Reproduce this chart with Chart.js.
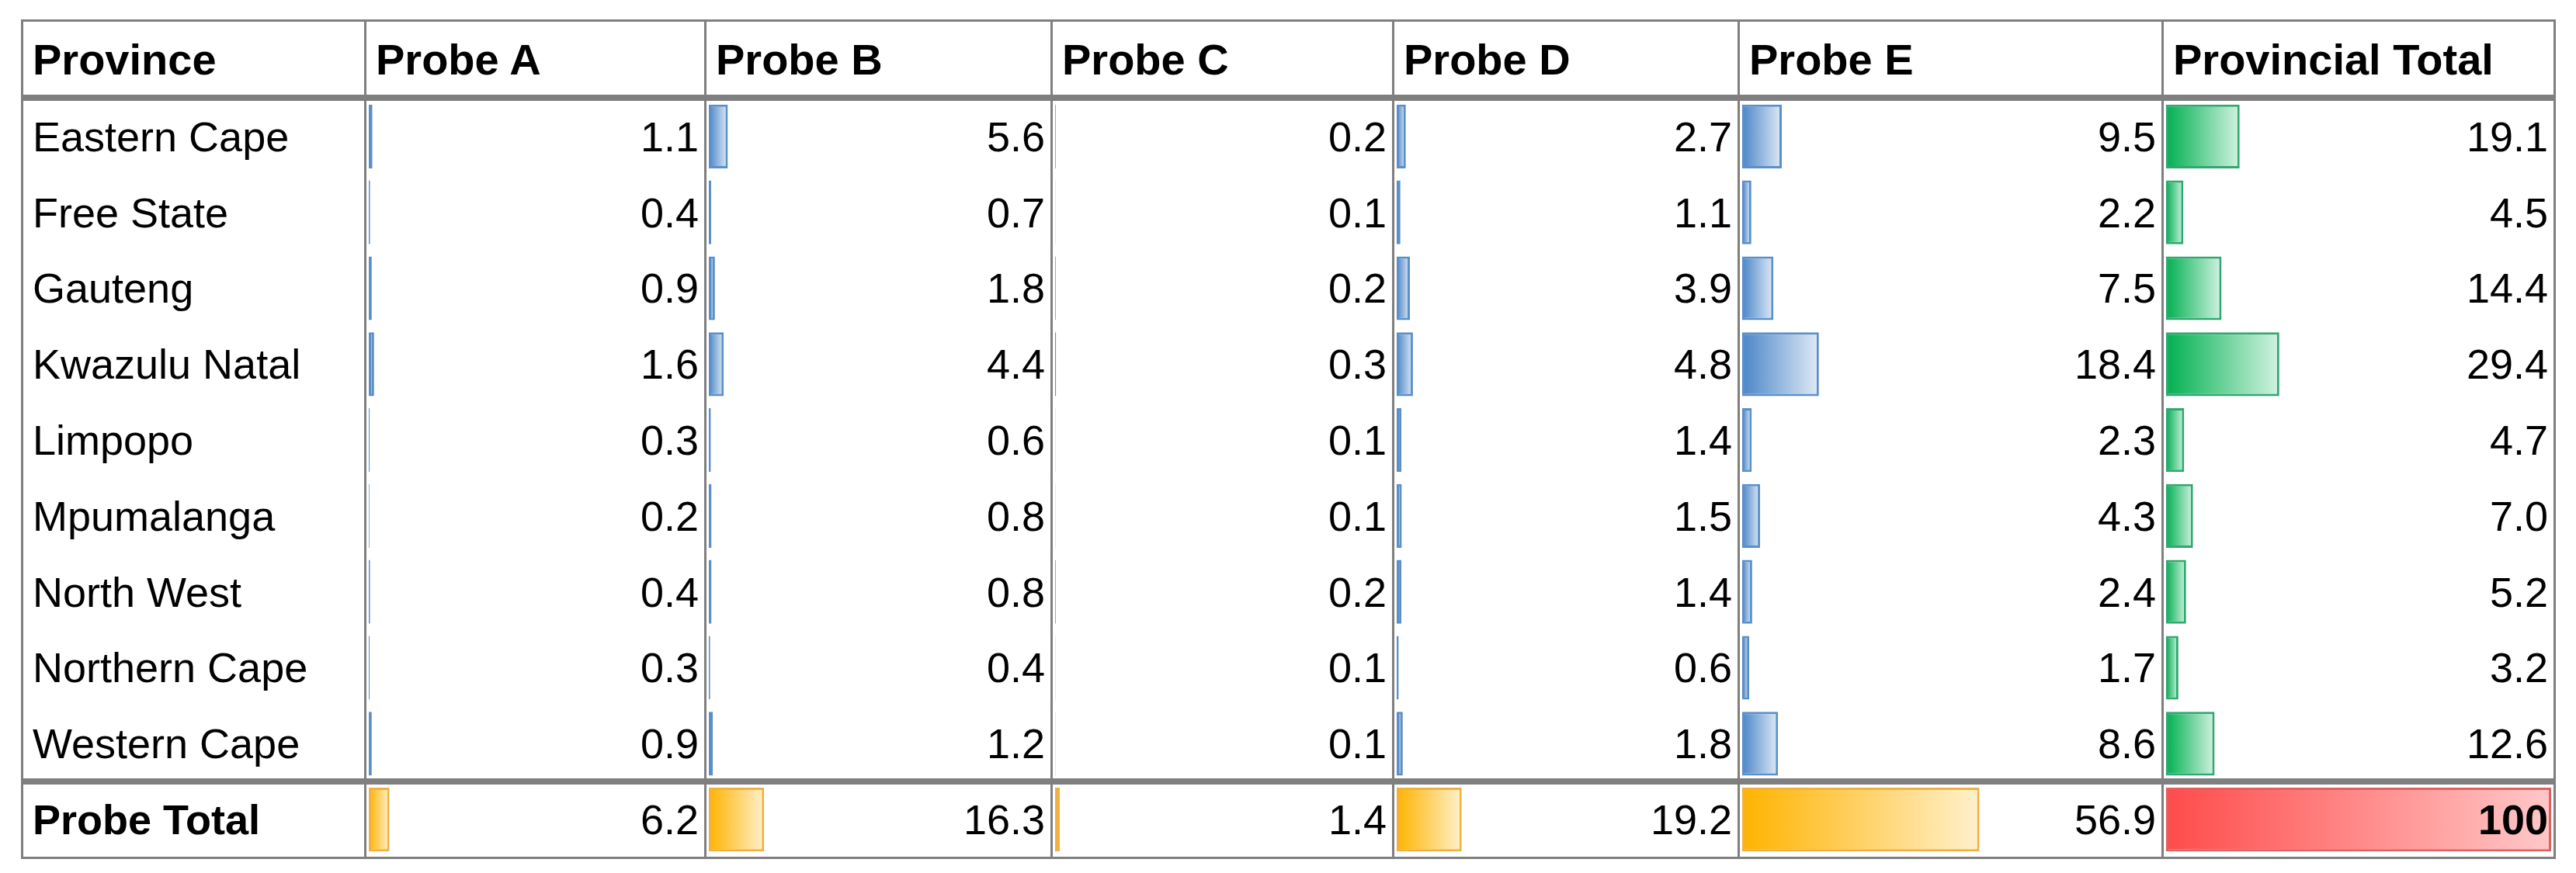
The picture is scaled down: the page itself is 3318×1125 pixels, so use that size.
<!DOCTYPE html>
<html><head><meta charset="utf-8">
<script src="https://cdn.jsdelivr.net/npm/chart.js@4"></script>
<style>
body{margin:0;background:#fff;width:3318px;height:1125px;position:relative;overflow:hidden;font-family:"Liberation Sans",Arial,sans-serif}
.cell{position:absolute;font-size:54px;color:#000;display:flex;align-items:center;box-sizing:border-box;white-space:nowrap;z-index:2}
.line{position:absolute;background:#7f7f7f;z-index:3}
</style></head><body>
<script>
const provinces=["Eastern Cape","Free State","Gauteng","Kwazulu Natal","Limpopo","Mpumalanga","North West","Northern Cape","Western Cape"];
const totalLabel="Probe Total";
const headers=["Province","Probe A","Probe B","Probe C","Probe D","Probe E","Provincial Total"];
const probeA=[1.1,0.4,0.9,1.6,0.3,0.2,0.4,0.3,0.9];
const probeB=[5.6,0.7,1.8,4.4,0.6,0.8,0.8,0.4,1.2];
const probeC=[0.2,0.1,0.2,0.3,0.1,0.1,0.2,0.1,0.1];
const probeD=[2.7,1.1,3.9,4.8,1.4,1.5,1.4,0.6,1.8];
const probeE=[9.5,2.2,7.5,18.4,2.3,4.3,2.4,1.7,8.6];
const provTotal=[19.1,4.5,14.4,29.4,4.7,7.0,5.2,3.2,12.6];
const probeTotals=[6.2,16.3,1.4,19.2,56.9];
const grandTotal=100;

const colX=[28,470,908,1354,1794,2239,2785,3290];
const top0=25, headBot=127, rowH=97.8, nRows=10, bottom=headBot+rowH*nRows;

function add(cls,style,text){const d=document.createElement('div');d.className=cls;Object.assign(d.style,style);if(text!==undefined)d.textContent=text;document.body.appendChild(d);return d;}
headers.forEach((h,i)=>add('cell',{left:colX[i]+14+'px',top:top0+'px',width:(colX[i+1]-colX[i]-20)+'px',height:(headBot-top0)+'px',fontWeight:'bold',fontSize:'56px'},h));
provinces.concat([totalLabel]).forEach((p,r)=>add('cell',{left:colX[0]+14+'px',top:headBot+r*rowH+'px',height:rowH+'px',fontWeight:r===9?'bold':'normal'},p));
const cols=[probeA,probeB,probeC,probeD,probeE,provTotal];
cols.forEach((arr,c)=>{
  const vals=arr.concat([c<5?probeTotals[c]:grandTotal]);
  vals.forEach((v,r)=>{
    const txt=(c===5&&r===9)?String(v):v.toFixed(1);
    add('cell',{left:colX[c+1]+'px',top:headBot+r*rowH+'px',width:(colX[c+2]-colX[c+1]-8)+'px',height:rowH+'px',justifyContent:'flex-end',fontWeight:(c===5&&r===9)?'bold':'normal'},txt);
  });
  const L=colX[c+1]+5, W=colX[c+2]-colX[c+1]-9;
  const wrap=document.createElement('div');Object.assign(wrap.style,{position:'absolute',left:L+'px',top:headBot+'px',width:W+'px',height:(rowH*nRows)+'px',zIndex:1});
  const cv=document.createElement('canvas');
  wrap.appendChild(cv);document.body.appendChild(wrap);
  const main=c===5?['#00b050','#d2f2e1','#2fa86f']:['#4a86c8','#e0eaf6','#5b8fc8'];
  const tot=c===5?['#ff4b4b','#ffc8c8','#e06060']:['#ffb300','#fff0cc','#f0b040'];
  new Chart(cv,{type:'bar',data:{labels:provinces.concat([totalLabel]),datasets:[{data:vals,
    backgroundColor:(ctx)=>{const isT=ctx.dataIndex===9;const cc=isT?tot:main;
      const ch=ctx.chart;const xs=ch.scales&&ch.scales.x;
      if(!xs||!ch.chartArea)return cc[0];
      const x0=xs.getPixelForValue(0),x1=xs.getPixelForValue(ctx.raw);
      if(!isFinite(x0)||!isFinite(x1))return cc[0];
      const g=ch.ctx.createLinearGradient(x0,0,Math.max(x1,x0+1),0);g.addColorStop(0,cc[0]);g.addColorStop(1,cc[1]);return g;},
    borderColor:(ctx)=>ctx.dataIndex===9?tot[2]:main[2],borderWidth:3,borderSkipped:false,
    categoryPercentage:0.84,barPercentage:1}]},
    options:{indexAxis:'y',responsive:true,maintainAspectRatio:false,animation:false,
      layout:{padding:0},plugins:{legend:{display:false},tooltip:{enabled:false}},
      scales:{x:{display:false,min:0,max:100},y:{display:false}}}});
});
const T=3;
add('line',{left:colX[0]+'px',top:top0+'px',width:(colX[7]-colX[0])+'px',height:T+'px'});
add('line',{left:colX[0]+'px',top:(bottom-1)+'px',width:(colX[7]-colX[0])+'px',height:T+'px'});
add('line',{left:colX[0]+'px',top:(headBot-5)+'px',width:(colX[7]-colX[0])+'px',height:'8px'});
add('line',{left:colX[0]+'px',top:(headBot+rowH*9-4)+'px',width:(colX[7]-colX[0])+'px',height:'8px'});
colX.forEach(x=>add('line',{left:(x-1)+'px',top:top0+'px',width:T+'px',height:(bottom-top0+2)+'px'}));
</script>
</body></html>
